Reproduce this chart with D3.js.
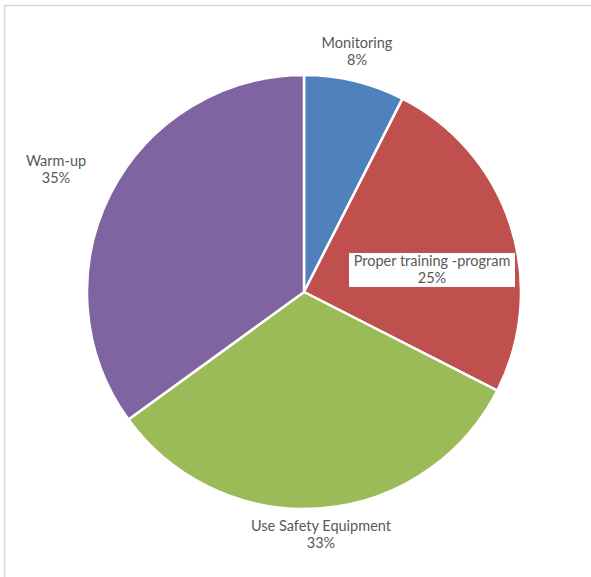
<!DOCTYPE html>
<html>
<head>
<meta charset="utf-8">
<script src="https://cdn.jsdelivr.net/npm/d3@7"></script>
<style>
  html, body { margin: 0; padding: 0; background: #fff; }
  svg { display: block; }
</style>
</head>
<body>
<script>
const width = 591
const height = 577

const categories = ["Monitoring", "Proper training -program", "Use Safety Equipment", "Warm-up"]
const values = [7.5, 25, 32.5, 35]
const colors = ["#4F81BD", "#C0504D", "#9BBB59", "#8064A2"]
// label anchor points (centre of the two-line label)
const labelPos = [[357, 52], [432, 270], [321, 535], [56, 170]]

const total = d3.sum(values)
const data = categories.map((c, i) => ({name: c, value: values[i], color: colors[i], pos: labelPos[i]}))

const svg = d3.select("body").append("svg")
  .attr("width", width)
  .attr("height", height)
  .style("font", "14.5px Lato, 'Open Sans', sans-serif")

// chart frame (top and left edges visible)
svg.append("path")
  .attr("d", `M4.5,${height} V5.5 H${width}`)
  .attr("fill", "none")
  .attr("stroke", "#d9d9d9")
  .attr("stroke-width", 1.5)

const cx = 304, cy = 292, r = 217

const pie = d3.pie().sort(null).value((d) => d.value)
const arc = d3.arc().innerRadius(0).outerRadius(r)

const g = svg.append("g").attr("transform", `translate(${cx},${cy})`)

g.selectAll("path")
  .data(pie(data))
  .join("path")
  .attr("d", arc)
  .attr("fill", (d) => d.data.color)
  .attr("stroke", "#fff")
  .attr("stroke-width", 2.5)
  .attr("stroke-linejoin", "round")

const labels = svg.append("g")
  .selectAll("g")
  .data(data)
  .join("g")
  .attr("transform", (d) => `translate(${d.pos[0]},${d.pos[1]})`)

// white box behind the label that sits inside the red slice
labels.filter((d, i) => i === 1)
  .append("rect")
  .attr("x", -83)
  .attr("y", -17)
  .attr("width", 166)
  .attr("height", 34)
  .attr("fill", "#fff")

const txt = labels.append("text")
  .attr("text-anchor", "middle")
  .attr("fill", "#595959")

txt.append("tspan").attr("x", 0).attr("y", -4).text((d) => d.name)
txt.append("tspan").attr("x", 0).attr("y", 13).text((d) => Math.round(d.value * 100 / total) + "%")
</script>
</body>
</html>
